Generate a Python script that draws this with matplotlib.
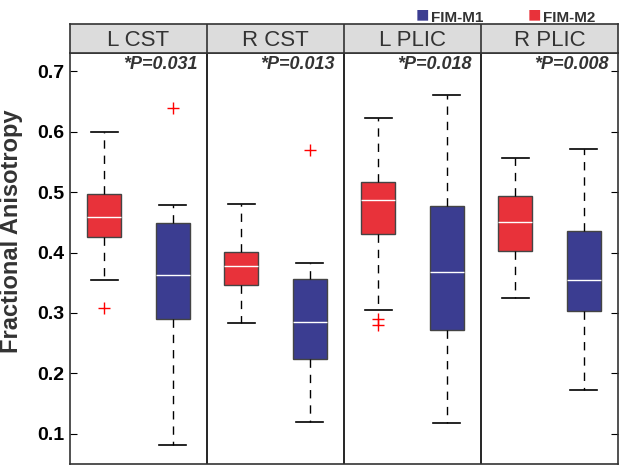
import matplotlib
matplotlib.use('Agg')
import matplotlib.pyplot as plt

plt.rcParams['font.family'] = ['Liberation Sans', 'DejaVu Sans']

# 各区域与组别
regions = ['L CST', 'R CST', 'L PLIC', 'R PLIC']
p_texts = ['*P=0.031', '*P=0.013', '*P=0.018', '*P=0.008']
groups = ['FIM-M1', 'FIM-M2']

# 箱线图统计量: 每个区域先 FIM-M2(红) 后 FIM-M1(蓝)
m2_whislo = [0.354, 0.283, 0.305, 0.325]
m2_q1 = [0.426, 0.346, 0.430, 0.403]
m2_med = [0.459, 0.378, 0.487, 0.451]
m2_q3 = [0.497, 0.401, 0.516, 0.493]
m2_whishi = [0.599, 0.480, 0.623, 0.556]
m2_fliers = [[0.309], [], [0.290, 0.280], []]

m1_whislo = [0.082, 0.120, 0.118, 0.172]
m1_q1 = [0.290, 0.224, 0.271, 0.304]
m1_med = [0.363, 0.285, 0.368, 0.355]
m1_q3 = [0.449, 0.357, 0.477, 0.435]
m1_whishi = [0.478, 0.382, 0.661, 0.571]
m1_fliers = [[0.639], [0.569], [], []]

yticks = [0.1, 0.2, 0.3, 0.4, 0.5, 0.6, 0.7]

red = '#e8323a'
blue = '#3b3d91'
dark = '#333333'

stats = []
colors = []
for i in range(len(regions)):
    stats.append(dict(whislo=m2_whislo[i], q1=m2_q1[i], med=m2_med[i], q3=m2_q3[i],
                      whishi=m2_whishi[i], fliers=m2_fliers[i]))
    colors.append(red)
    stats.append(dict(whislo=m1_whislo[i], q1=m1_q1[i], med=m1_med[i], q3=m1_q3[i],
                      whishi=m1_whishi[i], fliers=m1_fliers[i]))
    colors.append(blue)
positions = list(range(1, len(stats) + 1))

fig = plt.figure(figsize=(6.28, 4.73), dpi=100)
ax = fig.add_axes([0.1115, 0.019, 0.8725, 0.870])
hax = fig.add_axes([0.1115, 0.889, 0.8725, 0.060])

bp = ax.bxp(stats, positions=positions, widths=0.5, patch_artist=True,
            boxprops=dict(edgecolor='#444444', linewidth=1.0),
            medianprops=dict(color='white', linewidth=1.0),
            whiskerprops=dict(color='black', linewidth=1.0, linestyle=(0, (6, 5))),
            capprops=dict(color='black', linewidth=1.2),
            flierprops=dict(marker='+', markeredgecolor='red', markersize=8, linestyle='none'),
            capwidths=0.4)
for patch, c in zip(bp['boxes'], colors):
    patch.set_facecolor(c)

ax.set_xlim(0.5, 8.5)
ax.set_ylim(0.05, 0.731)
ax.set_xticks([])
ax.set_yticks(yticks)
ax.set_yticklabels([f'{t:.1f}' for t in yticks], fontsize=14, fontweight='bold')
ax.tick_params(axis='y', direction='in', length=5, right=True, pad=4)
for s in ax.spines.values():
    s.set_color(dark)
    s.set_linewidth(1.2)
ax.set_ylabel('Fractional Anisotropy', fontsize=17, fontweight='bold', color=dark, labelpad=4)
ax.yaxis.set_label_coords(-0.085, 0.565)

for k in range(1, len(regions)):
    ax.axvline(2 * k + 0.5, color='black', linewidth=1.2)

for k, txt in enumerate(p_texts):
    ax.text(2 * k + 2.37, 0.711, txt, ha='right', va='center', fontsize=13,
            fontweight='bold', style='italic', color=dark)

# 顶部标题栏
hax.set_facecolor('#dcdcdc')
hax.set_xlim(0.5, 8.5)
hax.set_ylim(0, 1)
hax.set_xticks([])
hax.set_yticks([])
for s in hax.spines.values():
    s.set_color(dark)
    s.set_linewidth(1.2)
for k, name in enumerate(regions):
    hax.text(2 * k + 1.5, 0.42, name, ha='center', va='center', fontsize=16, color=dark)
    if k > 0:
        hax.axvline(2 * k + 0.5, color=dark, linewidth=1.2)

# 图例
fig.text(0.662, 0.966, '\u25A0', color=blue, fontsize=16, ha='left', va='center')
fig.text(0.686, 0.963, groups[0], color=dark, fontsize=11, fontweight='bold', ha='left', va='center')
fig.text(0.840, 0.966, '\u25A0', color=red, fontsize=16, ha='left', va='center')
fig.text(0.864, 0.963, groups[1], color=dark, fontsize=11, fontweight='bold', ha='left', va='center')

fig.savefig('out.png', dpi=100)
